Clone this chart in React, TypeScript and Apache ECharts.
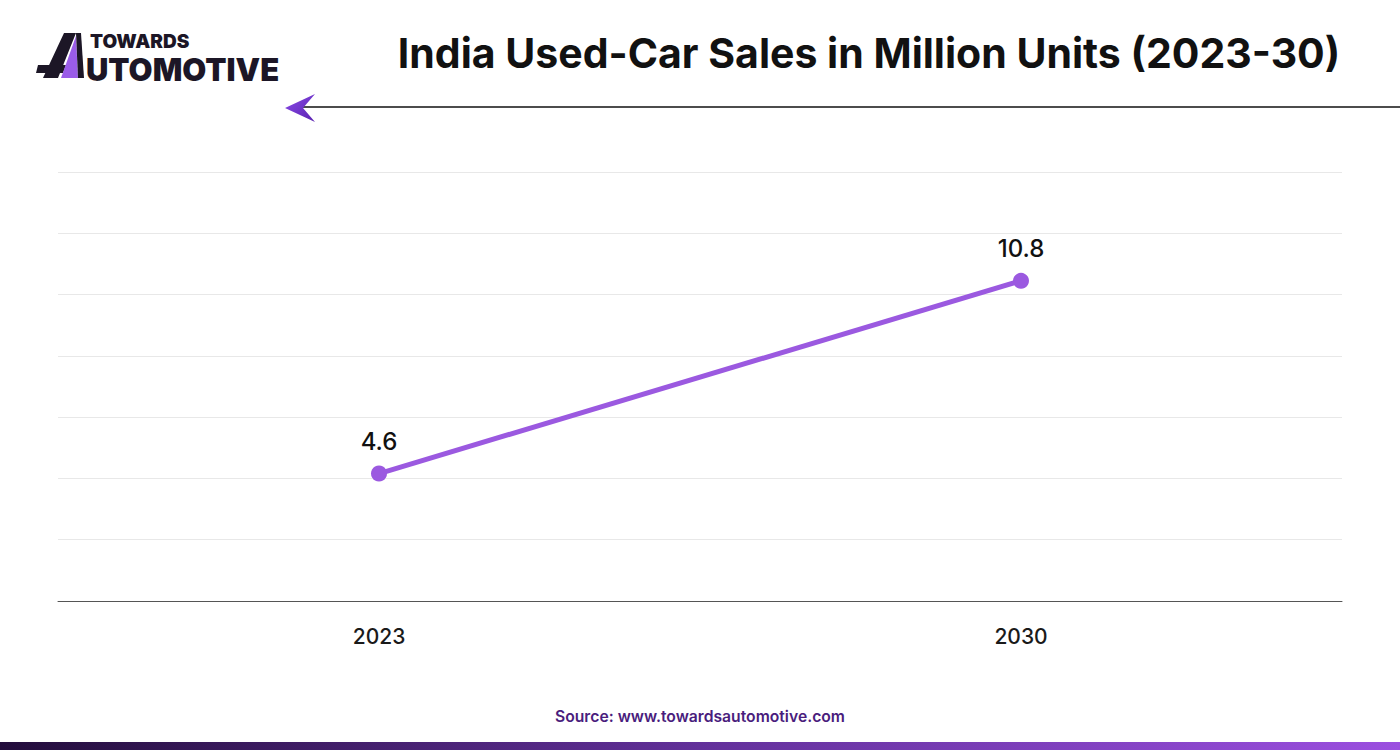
import React, { useEffect, useRef } from "react";
import * as echarts from "echarts";

const categories = ["2023", "2030"];
const salesValues = [4.6, 10.8];
const dataLabels = ["4.6", "10.8"];
const titleText = "India Used-Car Sales in Million Units (2023-30)";
const sourceText = "Source: www.towardsautomotive.com";

export default function App() {
  const ref = useRef<HTMLDivElement>(null);
  useEffect(() => {
    const chart = echarts.init(ref.current!, null, { renderer: "svg" });
    chart.setOption({
      animation: false,
      backgroundColor: "#ffffff",
      grid: { left: 58, right: 58, top: 172, bottom: 149, containLabel: false },
      xAxis: {
        type: "category",
        data: categories,
        boundaryGap: true,
        axisLine: { show: true, lineStyle: { color: "#555555", width: 1 } },
        axisTick: { show: false },
        axisLabel: {
          color: "#1a1a1a",
          fontSize: 21,
          fontWeight: 500,
          fontFamily: "Inter",
          margin: 25,
        },
      },
      yAxis: [
        {
          type: "value",
          min: 0,
          max: 14,
          interval: 2,
          axisLine: { show: false },
          axisTick: { show: false },
          axisLabel: { show: false },
          splitLine: { show: true, lineStyle: { color: "#e8e8e8", width: 1 } },
        },
        {
          type: "value",
          min: 0.5,
          max: 14.3,
          show: false,
          splitLine: { show: false },
        },
      ],
      title: {
        text: titleText,
        left: 864,
        top: 27,
        textAlign: "center",
        textStyle: {
          fontFamily: "Inter",
          fontWeight: 700,
          fontSize: 41,
          color: "#111111",
        },
      },
      graphic: [
        {
          type: "line",
          shape: { x1: 300, y1: 107, x2: 1400, y2: 107 },
          style: { stroke: "#111111", lineWidth: 1.5 },
        },
        {
          type: "polygon",
          shape: { points: [[285, 108], [315, 94], [303, 108], [315, 122]] },
          style: {
            fill: new echarts.graphic.LinearGradient(0, 0, 1, 1, [
              { offset: 0, color: "#8a4be8" },
              { offset: 1, color: "#5a22b0" },
            ]),
          },
        },
        // logo
        {
          type: "polygon",
          shape: { points: [[64, 33], [76, 33], [58, 78], [43, 78]] },
          style: { fill: "#1c1626" },
        },
        {
          type: "polygon",
          shape: { points: [[38, 65], [66, 65], [63, 73], [36, 73]] },
          style: { fill: "#1c1626" },
        },
        {
          type: "polygon",
          shape: { points: [[76, 36], [78, 78], [61, 78]] },
          style: { fill: "#9a5ce8" },
        },
        {
          type: "polygon",
          shape: { points: [[76, 33], [81, 33], [84, 78], [78, 78]] },
          style: { fill: "#1c1626" },
        },
        {
          type: "text",
          left: 90,
          top: 32,
          style: {
            text: "TOWARDS",
            font: "900 19px Inter",
            lineHeight: 19,
            fill: "#1c1626",
          },
        },
        {
          type: "text",
          left: 86,
          top: 54,
          style: {
            text: "UTOMOTIVE",
            font: "900 31px Inter",
            lineHeight: 26,
            fill: "#1c1626",
          },
        },
        {
          type: "text",
          left: "center",
          top: 708,
          style: {
            text: sourceText,
            font: "600 15.7px Inter",
            fill: "#4a1d7d",
          },
        },
        {
          type: "rect",
          shape: { x: 0, y: 742, width: 1400, height: 8 },
          style: {
            fill: new echarts.graphic.LinearGradient(0, 0, 1, 0, [
              { offset: 0, color: "#230d3c" },
              { offset: 0.5, color: "#62309a" },
              { offset: 1, color: "#9b4fe0" },
            ]),
          },
        },
      ],
      series: [
        {
          type: "line",
          yAxisIndex: 1,
          data: salesValues,
          symbol: "circle",
          symbolSize: 16,
          lineStyle: { color: "#9b59e0", width: 5 },
          itemStyle: { color: "#9b59e0" },
          label: {
            show: true,
            position: "top",
            distance: 12,
            fontSize: 24,
            fontWeight: 500,
            fontFamily: "Inter",
            color: "#111111",
            formatter: (p: any) => dataLabels[p.dataIndex],
          },
        },
      ],
    });
    return () => chart.dispose();
  }, []);
  return (
    <div
      ref={ref}
      style={{ position: "absolute", left: 0, top: 0, width: 1400, height: 750 }}
    />
  );
}
